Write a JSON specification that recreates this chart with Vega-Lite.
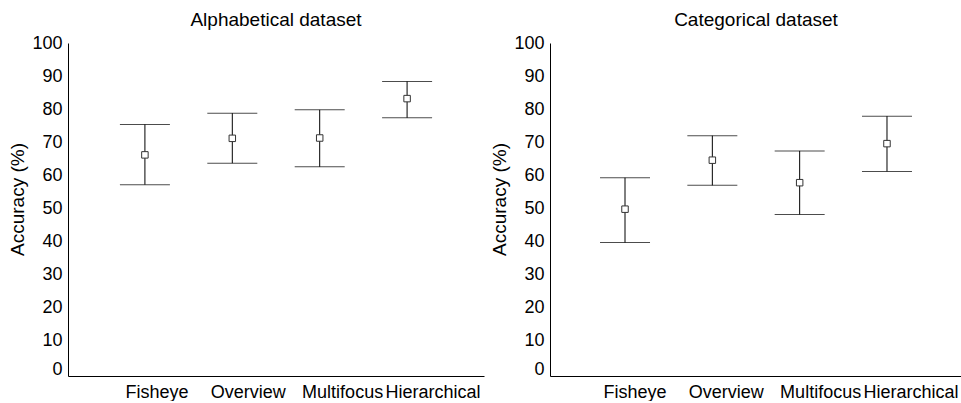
{
  "$schema": "https://vega.github.io/schema/vega-lite/v6.json",
  "padding": {"left": 8, "top": 11, "right": 0, "bottom": 0},
  "spacing": 6,
  "config": {
    "view": {"stroke": null},
    "font": "Liberation Sans",
    "axis": {
      "grid": false,
      "ticks": false,
      "tickSize": 0,
      "labelOverlap": false,
      "domainColor": "#000000",
      "domainWidth": 1,
      "labelFont": "Liberation Sans",
      "labelFontSize": 18,
      "labelColor": "#000000",
      "titleFont": "Liberation Sans",
      "titleFontSize": 19,
      "titleFontWeight": "normal",
      "titleColor": "#000000"
    },
    "title": {"font": "Liberation Sans", "fontSize": 19, "fontWeight": "normal", "color": "#000000", "offset": 4}
  },
  "data": {
    "values": [
      {"dataset": "Alphabetical", "technique": "Fisheye", "mean": 66.2, "lo": 57.2, "hi": 75.4},
      {"dataset": "Alphabetical", "technique": "Overview", "mean": 71.2, "lo": 63.7, "hi": 78.8},
      {"dataset": "Alphabetical", "technique": "Multifocus", "mean": 71.3, "lo": 62.6, "hi": 79.8},
      {"dataset": "Alphabetical", "technique": "Hierarchical", "mean": 83.2, "lo": 77.4, "hi": 88.4},
      {"dataset": "Categorical", "technique": "Fisheye", "mean": 49.8, "lo": 39.7, "hi": 59.3},
      {"dataset": "Categorical", "technique": "Overview", "mean": 64.6, "lo": 57.0, "hi": 72.0},
      {"dataset": "Categorical", "technique": "Multifocus", "mean": 57.8, "lo": 48.2, "hi": 67.4},
      {"dataset": "Categorical", "technique": "Hierarchical", "mean": 69.6, "lo": 61.2, "hi": 77.9}
    ]
  },
  "hconcat": [
    {
      "width": 416,
      "height": 333,
      "title": {"text": "Alphabetical dataset"},
      "transform": [{"filter": "datum.dataset == 'Alphabetical'"}],
      "layer": [
        {
          "layer": [
            {
              "mark": {"type": "rule", "color": "#000000", "strokeWidth": 1},
              "encoding": {
                "x": {"field": "technique", "type": "nominal", "sort": ["Fisheye", "Overview", "Multifocus", "Hierarchical"], "scale": {"type": "point", "padding": 0.88}, "axis": {"orient": "bottom", "labels": false, "title": null, "domain": true}},
                "y": {"field": "lo", "type": "quantitative", "title": "Accuracy (%)", "scale": {"domain": [-0.6, 100], "nice": false, "zero": false}, "axis": {"values": [0, 10, 20, 30, 40, 50, 60, 70, 80, 90, 100], "tickCount": 11, "labelOverlap": false, "labelPadding": 6, "titlePadding": 4, "titleY": 156, "labelOffset": {"condition": {"test": "datum.value == 0", "value": -5}, "value": 0}}},
                "y2": {"field": "hi"}
              }
            },
            {
              "mark": {"type": "tick", "orient": "horizontal", "size": 50, "thickness": 1, "color": "#000000"},
              "encoding": {
                "x": {"field": "technique", "type": "nominal", "sort": ["Fisheye", "Overview", "Multifocus", "Hierarchical"]},
                "y": {"field": "lo", "type": "quantitative", "title": "Accuracy (%)"}
              }
            },
            {
              "mark": {"type": "tick", "orient": "horizontal", "size": 50, "thickness": 1, "color": "#000000"},
              "encoding": {
                "x": {"field": "technique", "type": "nominal", "sort": ["Fisheye", "Overview", "Multifocus", "Hierarchical"]},
                "y": {"field": "hi", "type": "quantitative", "title": "Accuracy (%)"}
              }
            },
            {
              "mark": {"type": "point", "shape": "square", "size": 42, "filled": true, "fill": "#ffffff", "stroke": "#333333", "strokeWidth": 1, "opacity": 1},
              "encoding": {
                "x": {"field": "technique", "type": "nominal", "sort": ["Fisheye", "Overview", "Multifocus", "Hierarchical"]},
                "y": {"field": "mean", "type": "quantitative", "title": "Accuracy (%)"}
              }
            }
          ]
        },
        {
          "mark": {"type": "point", "opacity": 0},
          "encoding": {
            "x": {"field": "technique", "type": "nominal", "sort": ["Fisheye", "Overview", "Multifocus", "Hierarchical"], "scale": {"type": "point", "padding": 0.638}, "axis": {"orient": "bottom", "domain": false, "title": null, "labelAngle": 0, "labelAlign": "right", "labelOffset": 58, "labelPadding": 7}},
            "y": {"field": "mean", "type": "quantitative", "title": "Accuracy (%)"}
          }
        }
      ],
      "resolve": {"scale": {"x": "independent"}, "axis": {"x": "independent"}}
    },
    {
      "width": 412,
      "height": 333,
      "title": {"text": "Categorical dataset"},
      "transform": [{"filter": "datum.dataset == 'Categorical'"}],
      "layer": [
        {
          "layer": [
            {
              "mark": {"type": "rule", "color": "#000000", "strokeWidth": 1},
              "encoding": {
                "x": {"field": "technique", "type": "nominal", "sort": ["Fisheye", "Overview", "Multifocus", "Hierarchical"], "scale": {"type": "point", "padding": 0.859}, "axis": {"orient": "bottom", "labels": false, "title": null, "domain": true}},
                "y": {"field": "lo", "type": "quantitative", "title": "Accuracy (%)", "scale": {"domain": [-0.6, 100], "nice": false, "zero": false}, "axis": {"values": [0, 10, 20, 30, 40, 50, 60, 70, 80, 90, 100], "tickCount": 11, "labelOverlap": false, "labelPadding": 6, "titlePadding": 4, "titleY": 156, "labelOffset": {"condition": {"test": "datum.value == 0", "value": -5}, "value": 0}}},
                "y2": {"field": "hi"}
              }
            },
            {
              "mark": {"type": "tick", "orient": "horizontal", "size": 50, "thickness": 1, "color": "#000000"},
              "encoding": {
                "x": {"field": "technique", "type": "nominal", "sort": ["Fisheye", "Overview", "Multifocus", "Hierarchical"]},
                "y": {"field": "lo", "type": "quantitative", "title": "Accuracy (%)"}
              }
            },
            {
              "mark": {"type": "tick", "orient": "horizontal", "size": 50, "thickness": 1, "color": "#000000"},
              "encoding": {
                "x": {"field": "technique", "type": "nominal", "sort": ["Fisheye", "Overview", "Multifocus", "Hierarchical"]},
                "y": {"field": "hi", "type": "quantitative", "title": "Accuracy (%)"}
              }
            },
            {
              "mark": {"type": "point", "shape": "square", "size": 42, "filled": true, "fill": "#ffffff", "stroke": "#333333", "strokeWidth": 1, "opacity": 1},
              "encoding": {
                "x": {"field": "technique", "type": "nominal", "sort": ["Fisheye", "Overview", "Multifocus", "Hierarchical"]},
                "y": {"field": "mean", "type": "quantitative", "title": "Accuracy (%)"}
              }
            }
          ]
        },
        {
          "mark": {"type": "point", "opacity": 0},
          "encoding": {
            "x": {"field": "technique", "type": "nominal", "sort": ["Fisheye", "Overview", "Multifocus", "Hierarchical"], "scale": {"type": "point", "padding": 0.617}, "axis": {"orient": "bottom", "domain": false, "title": null, "labelAngle": 0, "labelAlign": "right", "labelOffset": 56, "labelPadding": 7}},
            "y": {"field": "mean", "type": "quantitative", "title": "Accuracy (%)"}
          }
        }
      ],
      "resolve": {"scale": {"x": "independent"}, "axis": {"x": "independent"}}
    }
  ]
}
